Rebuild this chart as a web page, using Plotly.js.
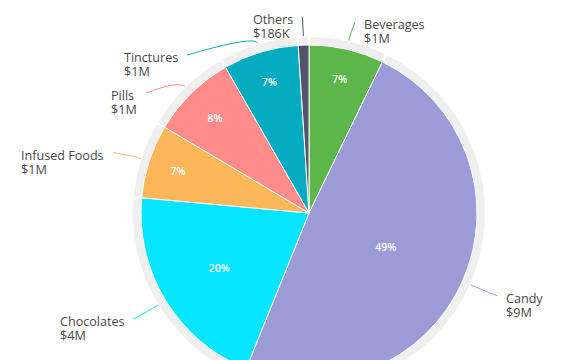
<!DOCTYPE html>
<html><head><meta charset="utf-8">
<script src="https://cdn.plot.ly/plotly-3.0.1.min.js"></script>
<style>html,body{margin:0;padding:0;overflow:hidden;background:#fff}#chart{width:569px;height:440px}</style>
</head><body><div id="chart"></div>
<script>
const categories = ['Beverages','Candy','Chocolates','Infused Foods','Pills','Tinctures','Others'];
const revenue = [1310000, 8900000, 3700000, 1290000, 1490000, 1320000, 186000];
const sliceColors = ['#5cb64a','#9b9bd8','#05e5ff','#fcb65a','#ff8c8a','#05abc1','#4f5468'];

const W=569, H=440, CX=309, CY=213, R_PIE=168, R_RING=177, LAB_RX=206, LAB_RY_TOP=196, LAB_RY_BOT=204, MIN_GAP=38;
const LABEL_FONT = 'Open Sans', LABEL_SIZE = 12.6;
function fmt(v){ return v>=1e6 ? '$'+Math.round(v/1e6)+'M' : '$'+Math.round(v/1e3)+'K'; }
const total = revenue.reduce((a,b)=>a+b,0);
const pct = revenue.map(v=>v/total);
const px2x = x=>x/W, px2y = y=>1-y/H;
function dom(r){ return {x:[px2x(CX-r),px2x(CX+r)], y:[px2y(CY+r),px2y(CY-r)]}; }
const ctx = document.createElement('canvas').getContext('2d');
ctx.font = LABEL_SIZE+'px "'+LABEL_FONT+'"';
const tw = s => ctx.measureText(s).width;

let acc=0;
const mids = pct.map(p=>{const m=(acc+p/2)*2*Math.PI; acc+=p; return m;});
const labs = mids.map((a,i)=>{
  const ry = Math.cos(a)>=0 ? LAB_RY_TOP : LAB_RY_BOT;
  return {i, a, ry, right: Math.sin(a)>=0,
    sx: CX+R_RING*Math.sin(a), sy: CY-R_RING*Math.cos(a),
    ey: CY-ry*Math.cos(a)};
});
[true,false].forEach(side=>{
  const g = labs.filter(l=>l.right===side).sort((a,b)=>a.ey-b.ey);
  for(let k=1;k<g.length;k++){ if(g[k].ey-g[k-1].ey<MIN_GAP) g[k].ey=g[k-1].ey+MIN_GAP; }
});
const shapes=[], annotations=[];
labs.forEach(l=>{
  const t = Math.max(-1, Math.min(1, (l.ey-CY)/l.ry));
  const s = Math.sqrt(1-t*t);
  l.ex = CX + (l.right?1:-1)*LAB_RX*s;
  const cxp = CX+(R_RING+9)*Math.sin(l.a), cyp = CY-(R_RING+9)*Math.cos(l.a);
  shapes.push({type:'path', xref:'paper', yref:'paper',
    path:`M ${px2x(l.sx)} ${px2y(l.sy)} Q ${px2x(cxp)} ${px2y(cyp)} ${px2x(l.ex)} ${px2y(l.ey)}`,
    line:{color:sliceColors[l.i], width:1}});
  const name = categories[l.i], val = fmt(revenue[l.i]);
  const blockW = Math.max(tw(name), tw(val));
  const left = l.right ? l.ex + 9 : l.ex - 9 - blockW;
  const common = {xref:'paper', yref:'paper', x:px2x(left), xanchor:'left', xshift:-2,
    yanchor:'middle', showarrow:false, align:'left',
    font:{family:'"'+LABEL_FONT+'", sans-serif', size:LABEL_SIZE, color:'#484848'}};
  annotations.push(Object.assign({}, common, {y:px2y(l.ey+2.5), text:name}));
  annotations.push(Object.assign({}, common, {y:px2y(l.ey+16.5), text:val}));
});

const pctText = pct.map(p=> p>=0.02 ? Math.round(p*100)+'%' : '');

const traces = [
  {type:'pie', labels:categories, values:revenue, sort:false, direction:'clockwise', rotation:0,
   domain:dom(R_RING), marker:{colors:categories.map(()=> '#efefef'), line:{color:'#ffffff', width:2}},
   textinfo:'none', hoverinfo:'skip', showlegend:false},
  {type:'pie', labels:categories, values:revenue, sort:false, direction:'clockwise', rotation:0,
   domain:dom(R_PIE), marker:{colors:sliceColors, line:{color:'#ffffff', width:1}},
   text:pctText, textinfo:'text', textposition:'inside', insidetextorientation:'horizontal',
   insidetextfont:{family:'"Open Sans", sans-serif', size:10.5, color:'#ffffff', weight:600},
   hoverinfo:'skip', showlegend:false}
];
Plotly.newPlot('chart', traces, {width:W, height:H, margin:{l:0,r:0,t:0,b:0},
  paper_bgcolor:'#ffffff', showlegend:false, shapes, annotations}, {staticPlot:true});
</script></body></html>
